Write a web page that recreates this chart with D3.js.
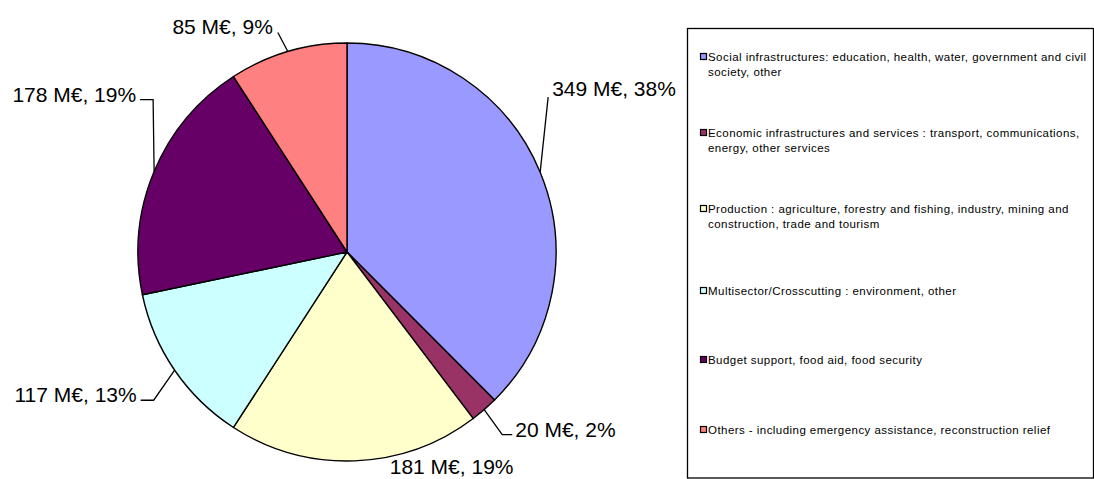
<!DOCTYPE html>
<html>
<head>
<meta charset="utf-8">
<script src="https://cdn.jsdelivr.net/npm/d3@7"></script>
<style>
  html, body { margin: 0; padding: 0; background: #fff; }
  svg { display: block; font-family: "Liberation Sans", Arial, sans-serif; }
</style>
</head>
<body>
<svg id="chart" width="1094" height="479"></svg>
<script>
// Sector breakdown of commitments, in million euros
const categories = [
  "Social infrastructures: education, health, water, government and civil\nsociety, other",
  "Economic infrastructures and services : transport, communications,\nenergy, other services",
  "Production : agriculture, forestry and fishing, industry, mining and\nconstruction, trade and tourism",
  "Multisector/Crosscutting : environment, other",
  "Budget support, food aid, food security",
  "Others - including emergency assistance, reconstruction relief"
];
const values = [349, 20, 181, 117, 178, 85];
const colors = ["#9999FF", "#993366", "#FFFFCC", "#CCFFFF", "#660066", "#FF8080"];

// Leader-line bends (relative to the slice edge) and text offsets (relative to the last bend)
const leaderBends = [
  [[0, 0], [8, -75]],
  [[0, 0], [18, 25], [28, 25]],
  [[0, 0]],
  [[0, 0], [-21, 30], [-34, 30]],
  [[0, 0], [-1, -72], [-14, -72]],
  [[0, 0], [-10, -19]]
];
const labelOffsets = [
  { dx: 4, dy: -1, anchor: "start" },
  { dx: 3, dy: 2, anchor: "start" },
  { dx: 35, dy: 13, anchor: "start" },
  { dx: -4, dy: 2, anchor: "end" },
  { dx: -4, dy: 2, anchor: "end" },
  { dx: -5, dy: 1, anchor: "end" }
];
const drawLeader = [true, true, false, true, true, true];

// Legend row centres (y of each marker)
const legendRows = [57, 133, 209, 291, 360, 430];

const svg = d3.select("#chart");
const cx = 347, cy = 252, radius = 209;

const total = d3.sum(values);
const pie = d3.pie().sort(null).value(d => d)(values);
const arc = d3.arc().innerRadius(0).outerRadius(radius);

const g = svg.append("g").attr("transform", `translate(${cx},${cy})`);

g.selectAll("path.slice")
  .data(pie)
  .join("path")
  .attr("class", "slice")
  .attr("d", arc)
  .attr("fill", (d, i) => colors[i])
  .attr("stroke", "#000")
  .attr("stroke-width", 1.4)
  .attr("stroke-linejoin", "round");

const fmtPct = v => Math.round(v / total * 100) + "%";

pie.forEach((d, i) => {
  const mid = (d.startAngle + d.endAngle) / 2;
  const ex = radius * Math.sin(mid);
  const ey = -radius * Math.cos(mid);
  const pts = leaderBends[i].map(p => [ex + p[0], ey + p[1]]);
  if (drawLeader[i]) {
    g.append("path")
      .attr("d", d3.line()(pts))
      .attr("fill", "none")
      .attr("stroke", "#000")
      .attr("stroke-width", 1.3);
  }
  const last = pts[pts.length - 1];
  const off = labelOffsets[i];
  g.append("text")
    .attr("x", last[0] + off.dx)
    .attr("y", last[1] + off.dy)
    .attr("text-anchor", off.anchor)
    .attr("font-size", 21)
    .attr("fill", "#000")
    .text(`${values[i]} M€, ${fmtPct(values[i])}`);
});

// Legend box
const legend = svg.append("g");
legend.append("rect")
  .attr("x", 687.5).attr("y", 28.5)
  .attr("width", 406).attr("height", 449.5)
  .attr("fill", "#fff")
  .attr("stroke", "#000")
  .attr("stroke-width", 1.3);

categories.forEach((c, i) => {
  const y = legendRows[i];
  legend.append("rect")
    .attr("x", 700.5).attr("y", y - 3.5)
    .attr("width", 6).attr("height", 6)
    .attr("fill", colors[i])
    .attr("stroke", "#000")
    .attr("stroke-width", 1.2);
  const t = legend.append("text")
    .attr("x", 708)
    .attr("y", y + 4)
    .attr("font-size", 11.5)
    .attr("letter-spacing", 0.45)
    .attr("fill", "#000");
  c.split("\n").forEach((line, k) => {
    t.append("tspan")
      .attr("x", 708)
      .attr("dy", k === 0 ? 0 : 15)
      .text(line);
  });
});
</script>
</body>
</html>
